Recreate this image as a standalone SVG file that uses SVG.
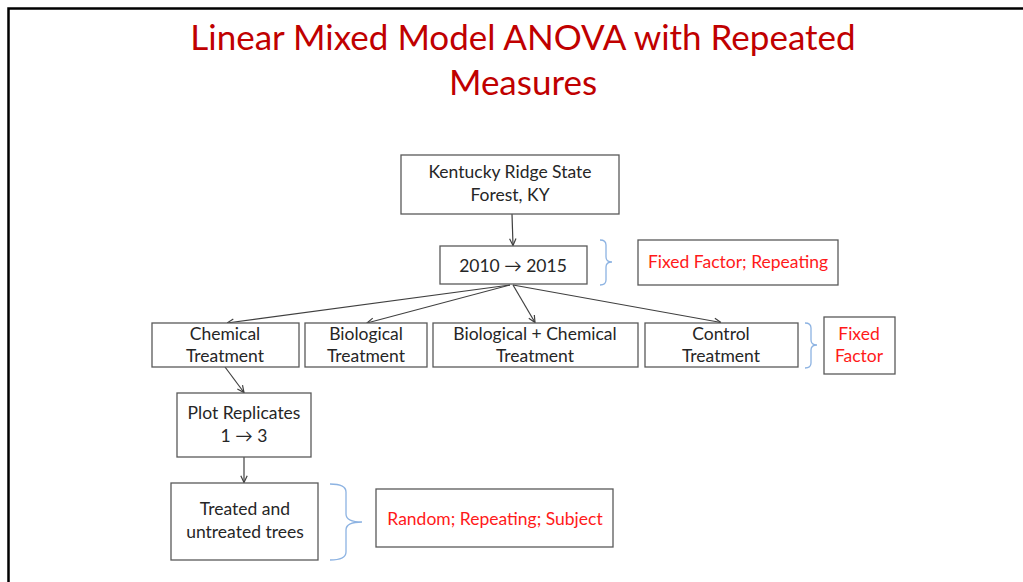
<svg xmlns="http://www.w3.org/2000/svg" width="1023" height="582" viewBox="0 0 1023 582">
<defs>
<style>
.box{fill:#fff;stroke:#595959;stroke-width:1.3}
.t{font-family:Lato,"Open Sans","Liberation Sans",sans-serif;font-size:17.5px;fill:#262626;text-anchor:middle}
.r{font-family:Lato,"Open Sans","Liberation Sans",sans-serif;font-size:17.5px;fill:#FF1A1A;text-anchor:middle}
.title{font-family:Lato,"Open Sans","Liberation Sans",sans-serif;font-size:35px;fill:#C00000;text-anchor:middle}
.c{fill:none;stroke:#404040;stroke-width:1.2}
.br{fill:none;stroke:#8DB3E2;stroke-width:1.3}
</style>
<marker id="ah" viewBox="0 0 10 10" refX="9.5" refY="5" markerWidth="8" markerHeight="8" markerUnits="userSpaceOnUse" orient="auto">
<path d="M1,1 L9.5,5 L1,9" fill="none" stroke="#404040" stroke-width="1.5"/>
</marker>
</defs>
<rect x="0" y="0" width="1023" height="582" fill="#fff"/>
<path d="M8.5,582 V8.5 H1023" fill="none" stroke="#000" stroke-width="2.5"/>
<g id="title">
<text class="title" x="523" y="50">Linear Mixed Model ANOVA with Repeated</text>
<text class="title" x="523" y="95">Measures</text>
</g>
<g id="connectors">
<line class="c" x1="512" y1="214" x2="513" y2="245.5" marker-end="url(#ah)"/>
<line class="c" x1="510" y1="285" x2="227" y2="323" marker-end="url(#ah)"/>
<line class="c" x1="510" y1="285" x2="367" y2="323" marker-end="url(#ah)"/>
<line class="c" x1="513" y1="285" x2="535" y2="322.5" marker-end="url(#ah)"/>
<line class="c" x1="513" y1="285" x2="721" y2="322.5" marker-end="url(#ah)"/>
<line class="c" x1="225" y1="367" x2="244" y2="392.5" marker-end="url(#ah)"/>
<line class="c" x1="244" y1="457" x2="244" y2="482.5" marker-end="url(#ah)"/>
</g>
<g id="kentucky">
<rect class="box" x="401" y="155" width="218" height="59"/>
<text class="t" x="510" y="178">Kentucky Ridge State</text>
<text class="t" x="510" y="201">Forest, KY</text>
</g>
<g id="years">
<rect class="box" x="440" y="246" width="147" height="38"/>
<text class="t" x="513" y="272">2010 → 2015</text>
</g>
<g id="brace1"><path class="br" d="M600,240 Q606,240 606,245 L606,257 Q606,262 612,262 Q606,262 606,267 L606,280 Q606,285 600,285"/></g>
<g id="fixed-repeating">
<rect class="box" x="638" y="240" width="200" height="45"/>
<text class="r" x="738" y="268">Fixed Factor; Repeating</text>
</g>
<g id="chemical">
<rect class="box" x="152" y="323" width="147" height="44"/>
<text class="t" x="225" y="340">Chemical</text>
<text class="t" x="225" y="362">Treatment</text>
</g>
<g id="biological">
<rect class="box" x="305" y="323" width="122" height="44"/>
<text class="t" x="366" y="340">Biological</text>
<text class="t" x="366" y="362">Treatment</text>
</g>
<g id="biochem">
<rect class="box" x="433" y="323" width="205" height="44"/>
<text class="t" x="535" y="340">Biological + Chemical</text>
<text class="t" x="535" y="362">Treatment</text>
</g>
<g id="control">
<rect class="box" x="645" y="323" width="153" height="44"/>
<text class="t" x="721" y="340">Control</text>
<text class="t" x="721" y="362">Treatment</text>
</g>
<g id="brace2"><path class="br" d="M805,323 Q811,323 811,328 L811,340 Q811,345 817,345 Q811,345 811,350 L811,363 Q811,368 805,368"/></g>
<g id="fixed-factor">
<rect class="box" x="824" y="317" width="71" height="57"/>
<text class="r" x="859" y="340">Fixed</text>
<text class="r" x="859" y="362">Factor</text>
</g>
<g id="plot-replicates">
<rect class="box" x="177" y="393" width="134" height="64"/>
<text class="t" x="244" y="419">Plot Replicates</text>
<text class="t" x="244" y="442">1 → 3</text>
</g>
<g id="trees">
<rect class="box" x="171" y="483" width="147" height="77"/>
<text class="t" x="245" y="515">Treated and</text>
<text class="t" x="245" y="538">untreated trees</text>
</g>
<g id="brace3"><path class="br" d="M330,484 Q346,484 346,492 L346,514 Q346,522 362,522 Q346,522 346,530 L346,552 Q346,560 330,560"/></g>
<g id="random">
<rect class="box" x="376" y="489" width="237" height="58"/>
<text class="r" x="495" y="525">Random; Repeating; Subject</text>
</g>
</svg>
